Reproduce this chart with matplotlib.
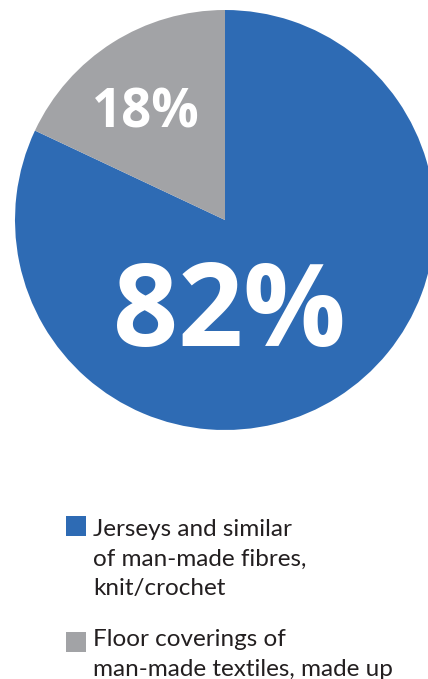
import matplotlib
matplotlib.use("Agg")
import matplotlib.pyplot as plt
from matplotlib.patches import Rectangle

categories = ["Jerseys and similar\nof man-made fibres,\nknit/crochet",
              "Floor coverings of\nman-made textiles, made up"]
values = [82, 18]
pct_labels = ["82%", "18%"]
colors = ["#2e6bb4", "#a2a3a6"]

W, H = 428, 679
fig = plt.figure(figsize=(W / 100, H / 100), dpi=100)
fig.patch.set_facecolor("white")

R = 210.0
cx, cy = 225.0, 220.0
ax = fig.add_axes([0, 0, 1, 1])
wedges, _ = ax.pie(values, colors=colors, startangle=90, counterclock=False,
                   radius=1.0, wedgeprops=dict(linewidth=0))
ax.set_xlim(-cx / R, (W - cx) / R)
ax.set_ylim(-(H - cy) / R, cy / R)
ax.set_aspect("auto")
ax.axis("off")

def fx(px):
    return px / W

def fy(py):
    return 1 - py / H

# percentage labels
ax.text(fx(229), fy(346), pct_labels[0], transform=fig.transFigure, ha="center", va="baseline",
        fontsize=82, fontweight="bold", color="white", family="Open Sans")
ax.text(fx(146), fy(128), pct_labels[1], transform=fig.transFigure, ha="center", va="baseline",
        fontsize=38, fontweight="bold", color="white", family="Open Sans")

# legend
tops = [516, 632]
baselines = [536, 646.5]
for top, base, lab, col in zip(tops, baselines, categories, colors):
    fig.patches.append(Rectangle((fx(66), fy(top + 20)), 20 / W, 20 / H,
                                 transform=fig.transFigure, facecolor=col, edgecolor="none"))
    for i, line in enumerate(lab.split("\n")):
        fig.text(fx(93), fy(base + 29.5 * i), line, ha="left", va="baseline", fontsize=17.5,
                 color="#231f20", family="Lato")

fig.savefig("out.png", dpi=100, facecolor="white")
